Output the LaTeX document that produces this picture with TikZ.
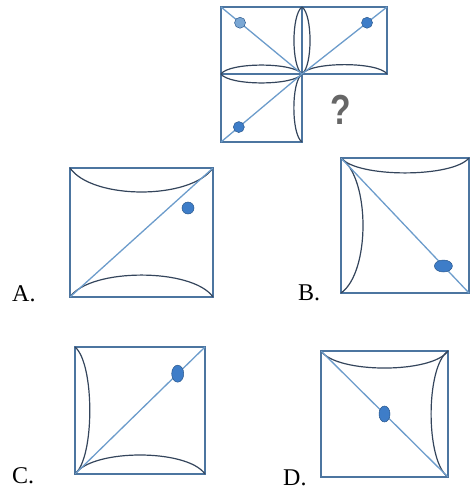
\documentclass[tikz,border=0pt]{standalone}
\usepackage{fontspec}
\setmainfont{Liberation Serif}
\newfontfamily\qmarkfont{Liberation Sans}
\usetikzlibrary{shapes.geometric}
\definecolor{framecol}{HTML}{4C75A0}
\definecolor{diagcol}{HTML}{6C9CCB}
\definecolor{arccol}{HTML}{34455C}
\definecolor{dotcol}{HTML}{3E7DC8}
\definecolor{dotlight}{HTML}{7AA7D4}
\definecolor{qcol}{HTML}{666666}
\tikzset{
  cellbox/.style={draw=framecol, line width=1.8pt, inner sep=0pt, outer sep=0pt},
  diagline/.style={draw=diagcol, line width=1.3pt},
  petal/.style={draw=arccol, line width=1.2pt},
  dotmark/.style={ellipse, fill=dotcol, draw=dotcol!70!black, line width=.5pt, inner sep=0pt},
  optlabel/.style={anchor=base west, inner sep=0pt, font=\fontsize{24}{24}\selectfont}
}

\begin{document}
\begin{tikzpicture}[x=1pt,y=-1pt]
    \useasboundingbox (0,0) rectangle (472,493);
    % puzzle: three cells, the fourth is asked for
    \node[cellbox, minimum width=81pt, minimum height=67pt] (TL) at (261.5,40.5) {};
    \node[cellbox, minimum width=85pt, minimum height=67pt] (TR) at (344.5,40.5) {};
    \node[cellbox, minimum width=81pt, minimum height=68pt] (BL) at (261.5,108) {};
    \draw[petal] (TL.south west) to [out=55,in=125,looseness=.46] (TL.south east);
    \draw[petal] (TL.north east) to [out=-145,in=145,looseness=.5] (TL.south east);
    \draw[petal] (TR.north west) to [out=-35,in=35,looseness=.5] (TR.south west);
    \draw[petal] (TR.south west) to [out=55,in=125,looseness=.46] (TR.south east);
    \draw[petal] (BL.north west) to [out=-55,in=-125,looseness=.46] (BL.north east);
    \draw[petal] (BL.north east) to [out=-145,in=145,looseness=.5] (BL.south east);
    \draw[diagline] (TL.north west) -- node[dotmark, fill=dotlight, pos=.235, minimum width=11pt, minimum height=11pt] (dTL) {} (TL.south east);
    \draw[diagline] (TR.south west) -- node[dotmark, pos=.765, minimum width=11pt, minimum height=11pt] (dTR) {} (TR.north east);
    \draw[diagline] (BL.north east) -- node[dotmark, pos=.78, minimum width=11pt, minimum height=11pt] (dBL) {} (BL.south west);
    \node[text=qcol, font=\qmarkfont\bfseries\fontsize{42}{42}\selectfont, xscale=.8] (qmark) at (341,110) {?};
    % answer choices
    \foreach \n/\x/\y/\w/\h in {A/141.5/232.5/143/129, B/405/225.5/128/135, C/140/410.5/130/127, D/384.5/414/127/126}
      \node[cellbox, minimum width=\w pt, minimum height=\h pt] (\n) at (\x,\y) {};
    \foreach \n/\x/\y in {A/12/301, B/298/300, C/12/483, D/283/485}
      \node[optlabel] (lab\n) at (\x,\y) {\n.};
    % A
    \draw[petal] (A.north west) to [out=-55,in=-125,looseness=.7] (A.north east);
    \draw[petal] (A.south west) to [out=55,in=125,looseness=.64] (A.south east);
    \draw[diagline] (A.south west) -- (A.north east);
    \node[dotmark, minimum width=12pt, minimum height=12pt] (dA) at (188,208) {};
    % B
    \draw[petal] (B.north west) to [out=-50,in=-130,looseness=.52] (B.north east);
    \draw[petal] (B.north west) to [out=-35,in=35,looseness=.68] (B.south west);
    \draw[diagline] (B.north west) -- node[dotmark, pos=.8, minimum width=18pt, minimum height=12pt] (dB) {} (B.south east);
    % C
    \draw[petal] (C.north west) to [out=-40,in=40,looseness=.52] (C.south west);
    \draw[petal] (C.south west) to [out=55,in=125,looseness=.61] (C.south east);
    \draw[diagline] (C.south west) -- node[dotmark, pos=.79, minimum width=12pt, minimum height=17pt] (dC) {} (C.north east);
    % D
    \draw[petal] (D.north west) to [out=-55,in=-125,looseness=.56] (D.north east);
    \draw[petal] (D.north east) to [out=-145,in=145,looseness=.56] (D.south east);
    \draw[diagline] (D.north west) -- node[dotmark, pos=.5, minimum width=11pt, minimum height=16pt] (dD) {} (D.south east);
\end{tikzpicture}
\end{document}
